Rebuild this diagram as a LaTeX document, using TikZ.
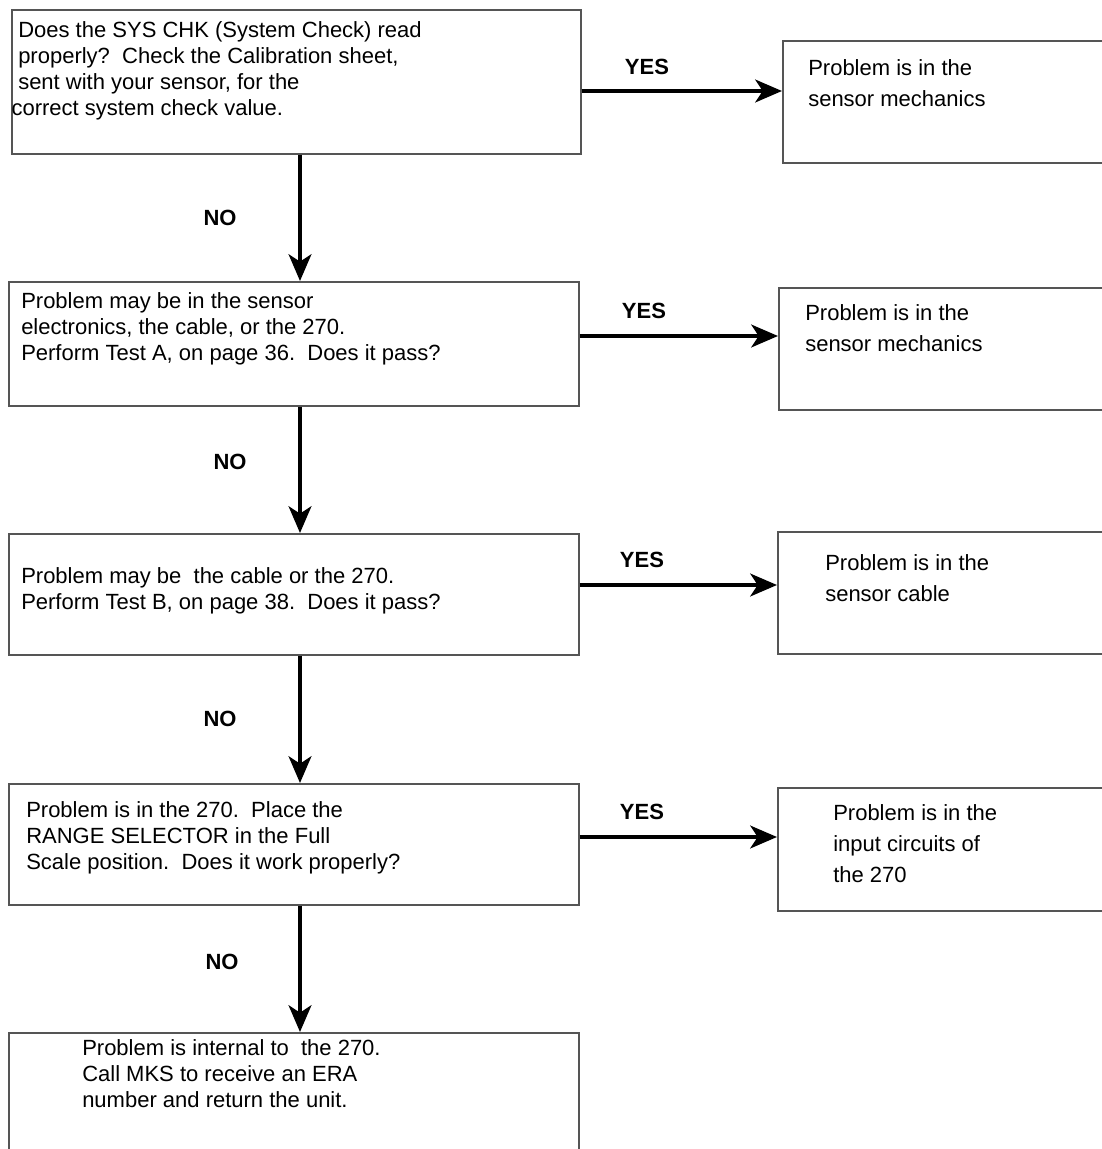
\documentclass[tikz,border=0pt]{standalone}
\usepackage{fontspec}
\setmainfont{Liberation Sans}
\usetikzlibrary{arrows.meta}
\definecolor{boxgray}{RGB}{85,85,85}

\begin{document}
\begin{tikzpicture}[x=0.75pt,y=0.75pt,yscale=-1,xscale=1,
  box/.style={draw=boxgray,line width=1.2pt,inner sep=0pt,anchor=north west},
  txt/.style={anchor=base west,inner sep=0pt,align=left,font=\fontsize{16.5}{19.5}\selectfont},
  rtxt/.style={txt,font=\fontsize{16.5}{23}\selectfont},
  lbl/.style={inner sep=0pt,font=\fontsize{16.5}{19.5}\selectfont\bfseries},
  flow/.style={line width=3.2pt,-{Stealth[length=20pt,width=17pt,inset=5.5pt]}}]
\useasboundingbox (0,0) rectangle (1101,1149);

%Shape: Rectangle [question boxes]
\node [box,minimum width=426.75pt,minimum height=108pt] (q1) at (11,9) {};
\node [box,minimum width=427.5pt,minimum height=93pt] (q2) at (8,281) {};
\node [box,minimum width=427.5pt,minimum height=90.75pt] (q3) at (8,533) {};
\node [box,minimum width=427.5pt,minimum height=90.75pt] (q4) at (8,783) {};
\node [box,minimum width=427.5pt,minimum height=99.75pt] (q5) at (8,1032) {};
%Shape: Rectangle [answer boxes]
\node [box,minimum width=247.5pt,minimum height=91.5pt] (r1) at (782,40) {};
\node [box,minimum width=247.5pt,minimum height=91.5pt] (r2) at (778,287) {};
\node [box,minimum width=247.5pt,minimum height=91.5pt] (r3) at (777,531) {};
\node [box,minimum width=247.5pt,minimum height=92.25pt] (r4) at (777,787) {};

% Text Node (anchored on the baseline of the last line)
\node [txt] (q1t) at (18,115) {Does the SYS CHK (System Check) read\\properly?\ \ Check the Calibration sheet,\\sent with your sensor, for the\\\hspace*{-5pt}correct system check value.};
% Text Node
\node [txt] (q2t) at (21,360) {Problem may be in the sensor\\electronics, the cable, or the 270.\\Perform Test A, on page 36.\ \ Does it pass?};
% Text Node
\node [txt] (q3t) at (21,609) {Problem may be\ \ the cable or the 270.\\Perform Test B, on page 38.\ \ Does it pass?};
% Text Node
\node [txt] (q4t) at (26,869) {Problem is in the 270.\ \ Place the\\RANGE SELECTOR in the Full\\Scale position.\ \ Does it work properly?};
% Text Node
\node [txt] (q5t) at (82,1107) {Problem is internal to\ \ the 270.\\Call MKS to receive an ERA\\number and return the unit.};
% Text Node
\node [rtxt] (r1t) at (808,106) {Problem is in the\\sensor mechanics};
\node [rtxt] (r2t) at (805,351) {Problem is in the\\sensor mechanics};
\node [rtxt] (r3t) at (825,601) {Problem is in the\\sensor cable};
\node [rtxt] (r4t) at (833,882) {Problem is in the\\input circuits of\\the 270};

%Straight Lines [flow arrows]
\coordinate (spine) at (300,0);
\coordinate (ya) at (0,91);
\coordinate (yb) at (0,336);
\coordinate (yc) at (0,585);
\coordinate (yd) at (0,837);
\draw [flow] (q1.south -| spine) -- (q2.north -| spine);
\draw [flow] (q2.south -| spine) -- (q3.north -| spine);
\draw [flow] (q3.south -| spine) -- (q4.north -| spine);
\draw [flow] (q4.south -| spine) -- (q5.north -| spine);
\draw [flow] (q1.east |- ya) -- (r1.west |- ya);
\draw [flow] (q2.east |- yb) -- (r2.west |- yb);
\draw [flow] (q3.east |- yc) -- (r3.west |- yc);
\draw [flow] (q4.east |- yd) -- (r4.west |- yd);

% Text Node
\node [lbl] (no1) at (220,218) {NO};
\node [lbl] (no2) at (230,462) {NO};
\node [lbl] (no3) at (220,719) {NO};
\node [lbl] (no4) at (222,962) {NO};
% Text Node
\node [lbl] (yes1) at (647,67) {YES};
\node [lbl] (yes2) at (644,311) {YES};
\node [lbl] (yes3) at (642,560) {YES};
\node [lbl] (yes4) at (642,812) {YES};

\end{tikzpicture}
\end{document}
